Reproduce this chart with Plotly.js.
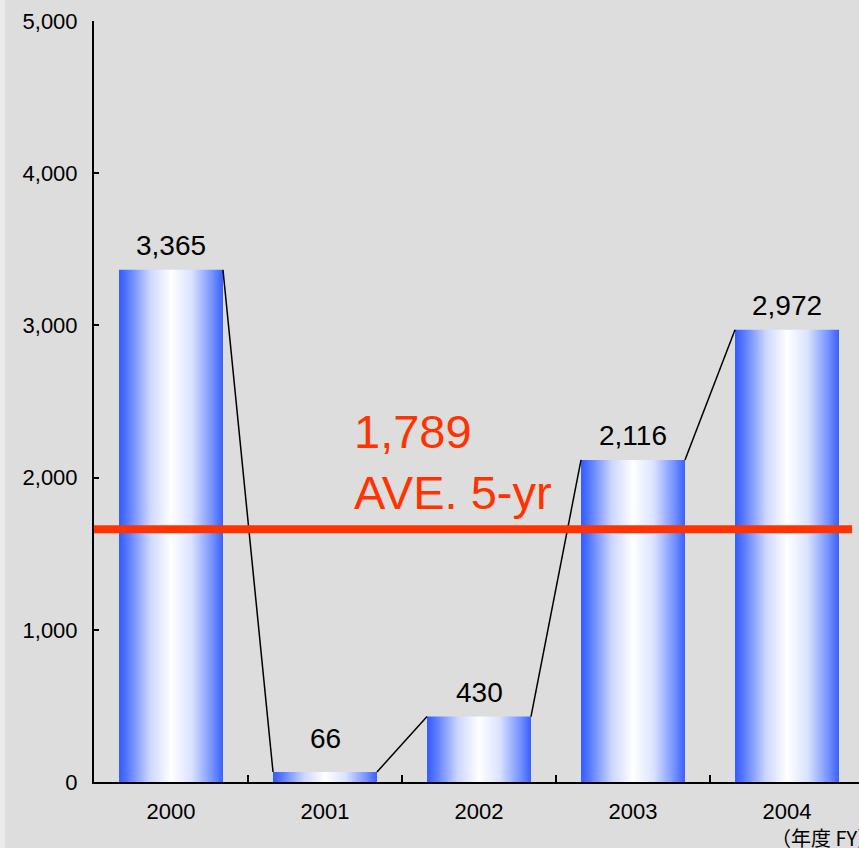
<!DOCTYPE html>
<html>
<head>
<meta charset="utf-8">
<script src="https://cdn.plot.ly/plotly-3.0.1.min.js"></script>
<style>
  html, body { margin: 0; padding: 0; background: #dddddd; }
  #chart { width: 859px; height: 848px; }
  #edge { position: absolute; left: 0; top: 0; width: 5px; height: 848px; background: #ebebeb; z-index: 5; }
</style>
</head>
<body>
<div id="chart"></div>
<div id="edge"></div>
<script>
// ---- data ----
const years = ["2000", "2001", "2002", "2003", "2004"];
const values = [3365, 66, 430, 2116, 2972];
const aveLineValue = 1660;          // where the red line is drawn
const aveLabel = ["1,789", "AVE. 5-yr"];
const yTicks = [0, 1000, 2000, 3000, 4000, 5000];
const unitLabel = "（年度 FY）";

// ---- styles ----
const FONT = "Liberation Sans, Arial, sans-serif";
const BAR_W = 0.675;
const gradScale = [
  [0, "rgb(50,90,255)"],
  [0.08, "rgb(85,120,255)"],
  [0.3, "rgb(205,215,255)"],
  [0.5, "rgb(255,255,255)"],
  [0.7, "rgb(218,226,255)"],
  [0.9, "rgb(115,145,255)"],
  [1, "rgb(55,95,255)"]
];

const traces = [];
const idx = years.map((_, i) => i);

// bars as gradient-filled rectangles
idx.forEach(i => {
  const x0 = i - BAR_W / 2, x1 = i + BAR_W / 2, v = values[i];
  traces.push({
    type: "scatter", mode: "lines",
    x: [x0, x1, x1, x0, x0], y: [0, 0, v, v, 0],
    line: { width: 0 }, fill: "toself",
    fillcolor: "rgb(140,165,255)",
    fillgradient: { type: "horizontal", colorscale: gradScale },
    hoverinfo: "skip", showlegend: false
  });
});

// connector lines between adjacent bar tops
idx.slice(0, -1).forEach(i => {
  traces.push({
    type: "scatter", mode: "lines",
    x: [i + BAR_W / 2, i + 1 - BAR_W / 2],
    y: [values[i], values[i + 1]],
    line: { color: "#000000", width: 1.5 },
    hoverinfo: "skip", showlegend: false
  });
});

// invisible trace on the label axis
traces.push({
  type: "scatter", mode: "markers", xaxis: "x2", yaxis: "y",
  x: idx, y: values, marker: { opacity: 0, size: 1 },
  hoverinfo: "skip", showlegend: false
});

const annotations = idx.map(i => ({
  x: i, y: values[i], xref: "x", yref: "y",
  text: values[i].toLocaleString("en-US"),
  showarrow: false, yanchor: "bottom", yshift: values[i] < 200 ? 16 : 7,
  font: { family: FONT, size: 28, color: "#000000" }
}));

annotations.push({
  xref: "paper", yref: "paper", x: 0.337, y: 0.343,
  xanchor: "left", yanchor: "bottom", align: "left",
  text: aveLabel.join("<br>"), showarrow: false,
  font: { family: FONT, size: 47, color: "#ff3300" }
});

annotations.push({
  xref: "paper", yref: "paper", x: 0.882, y: -0.073,
  xanchor: "left", yanchor: "middle", align: "left",
  text: unitLabel, showarrow: false,
  font: { family: "Noto Sans CJK JP, Liberation Sans, sans-serif", size: 20, color: "#000000" }
});

const XR = [-0.5, -0.5 + 765 / 154];

const layout = {
  width: 859, height: 848,
  margin: { l: 94, r: 0, t: 21, b: 66 },
  paper_bgcolor: "#dddddd", plot_bgcolor: "#dddddd",
  showlegend: false,
  xaxis: {
    range: XR, showgrid: false, zeroline: false,
    showline: true, linecolor: "#000000", linewidth: 2,
    tickvals: idx.slice(0, -1).map(i => i + 0.5),
    ticks: "inside", ticklen: 7, tickwidth: 1.5, tickcolor: "#000000",
    showticklabels: false
  },
  xaxis2: {
    overlaying: "x", matches: "x", side: "bottom",
    range: XR, showgrid: false, zeroline: false, showline: false,
    tickvals: idx, ticktext: years, ticks: "",
    ticklabelstandoff: 14,
    tickfont: { family: FONT, size: 22, color: "#000000" }
  },
  yaxis: {
    range: [0, 5000], showgrid: false, zeroline: false,
    showline: true, linecolor: "#000000", linewidth: 2,
    tickvals: yTicks, ticktext: yTicks.map(v => v.toLocaleString("en-US")),
    ticks: "inside", ticklen: 5, tickwidth: 2, tickcolor: "#000000",
    ticklabelstandoff: 10,
    tickfont: { family: FONT, size: 22, color: "#000000" }
  },
  shapes: [{
    type: "line", xref: "paper", yref: "y",
    x0: 0, x1: 0.991, y0: aveLineValue, y1: aveLineValue,
    line: { color: "#ff3300", width: 8 }, layer: "above"
  }],
  annotations: annotations
};

Plotly.newPlot("chart", traces, layout, { displayModeBar: false, staticPlot: true });
</script>
</body>
</html>
